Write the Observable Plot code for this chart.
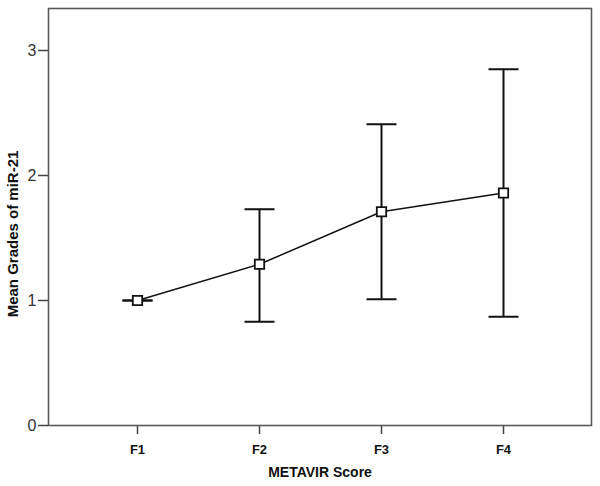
<!DOCTYPE html>
<html>
<head>
<meta charset="utf-8">
<script src="https://cdn.jsdelivr.net/npm/d3@7"></script>
<script src="https://cdn.jsdelivr.net/npm/@observablehq/plot@0.6"></script>
<style>
  html, body { margin: 0; padding: 0; background: #fff; }
  #chart svg { font-family: "Liberation Sans", Arial, sans-serif; }
  #chart g[aria-label="y-axis tick label"] { font-size: 16px; fill: #333; }
  #chart g[aria-label="x-axis tick label"] { font-size: 13px; font-weight: bold; fill: #111; }
</style>
</head>
<body>
<div id="chart"></div>
<script>
const categories = ["F1", "F2", "F3", "F4"];
const means = [1.00, 1.29, 1.71, 1.86];
const upper = [1.00, 1.73, 2.41, 2.85];
const lower = [1.00, 0.83, 1.01, 0.87];
const yTicks = [0, 1, 2, 3];
const xTitle = "METAVIR Score";
const yTitle = "Mean Grades of miR-21";

const data = categories.map((c, i) => ({cat: c, mean: means[i], hi: upper[i], lo: lower[i]}));

// horizontal cap symbol for the error bars
const capSymbol = {
  draw(context, size) {
    const w = Math.sqrt(size) / 2;
    context.moveTo(-w, 0);
    context.lineTo(w, 0);
  }
};
const capR = Math.sqrt(900 / Math.PI); // cap 30px wide

const chart = Plot.plot({
  width: 600,
  height: 486,
  marginLeft: 48,
  marginTop: 8,
  marginRight: 9,
  marginBottom: 61,
  style: {fontFamily: "'Liberation Sans', Arial, sans-serif", background: "#fff"},
  x: {type: "point", domain: categories, padding: 0.725},
  y: {domain: [0, 3.336]},
  marks: [
    Plot.axisY({ticks: yTicks, tickSize: 10, tickPadding: 2, fontSize: 16, fill: "#333", stroke: "#444", strokeWidth: 1.5, label: null, tickFormat: d3.format("d")}),
    Plot.axisX({tickSize: 9, tickPadding: 10, fontSize: 13, fontWeight: "bold", fill: "#111", stroke: "#444", strokeWidth: 1.5, label: null}),
    Plot.frame({stroke: "#5a5a5a", strokeWidth: 1.6}),
    Plot.ruleX(data, {x: "cat", y1: "lo", y2: "hi", stroke: "#111", strokeWidth: 2}),
    Plot.dot(data, {x: "cat", y: "hi", symbol: capSymbol, r: capR, fill: "none", stroke: "#111", strokeWidth: 2}),
    Plot.dot(data, {x: "cat", y: "lo", symbol: capSymbol, r: capR, fill: "none", stroke: "#111", strokeWidth: 2}),
    Plot.line(data, {x: "cat", y: "mean", stroke: "#111", strokeWidth: 1.5}),
    Plot.dot(data, {x: "cat", y: "mean", symbol: "square", r: 5.3, fill: "#fff", stroke: "#111", strokeWidth: 1.8}),
    Plot.text([xTitle], {frameAnchor: "bottom", dy: 47, fontSize: 14, fontWeight: "bold", fill: "#111", lineAnchor: "middle", textAnchor: "middle"}),
    Plot.text([yTitle], {frameAnchor: "left", dx: -35, dy: 17, rotate: -90, fontSize: 15, fontWeight: "bold", fill: "#111", lineAnchor: "middle", textAnchor: "middle"})
  ]
});
document.getElementById("chart").appendChild(chart);
</script>
</body>
</html>
